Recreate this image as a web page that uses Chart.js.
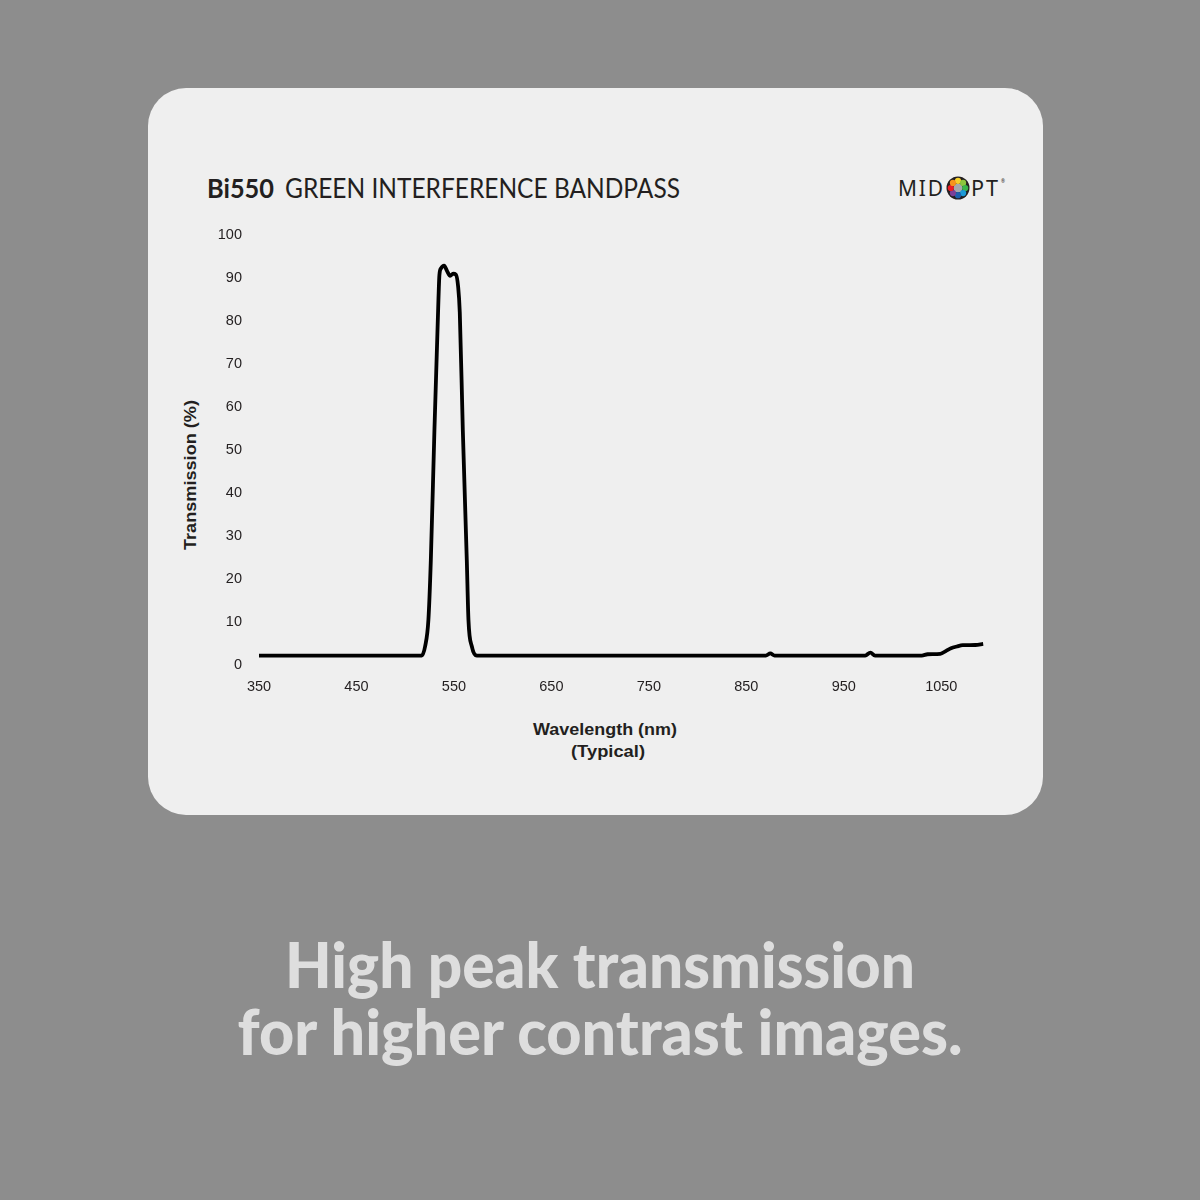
<!DOCTYPE html>
<html><head><meta charset="utf-8">
<script src="https://cdn.jsdelivr.net/npm/chart.js@4"></script>
<style>
html,body{margin:0;padding:0;}
body{width:1200px;height:1200px;background:#8d8d8d;position:relative;overflow:hidden;}
#card{position:absolute;left:148px;top:88px;width:895px;height:727px;background:#efefef;border-radius:38px;}
#chart{position:absolute;left:0;top:0;}
.t{position:absolute;left:0;top:0;white-space:nowrap;line-height:1;color:#231f20;}
.lato{font-family:Lato,"Open Sans",sans-serif;}
.narrow{font-family:"Liberation Sans Narrow","Liberation Sans",Arial,sans-serif;font-weight:700;}
#cap1,#cap2{color:#dedede;font-weight:900;font-size:62px;}
</style></head><body>
<div id="card"></div>
<div class="t lato" id="title1" style="font-weight:700;font-size:27px;">Bi550</div>
<div class="t lato" id="title2" style="font-weight:400;font-size:27px;">GREEN INTERFERENCE BANDPASS</div>
<div class="t" id="logo1" style="font-family:'Noto Sans',sans-serif;font-weight:400;font-size:22px;letter-spacing:2px;">MID</div>
<div class="t" id="logo2" style="font-family:'Noto Sans',sans-serif;font-weight:400;font-size:22px;letter-spacing:2px;">PT</div>
<div class="t" id="logo3" style="font-family:'Noto Sans',sans-serif;font-size:6px;">®</div>
<svg id="logoO" style="position:absolute;left:946px;top:176px" width="24" height="24" viewBox="0 0 24 24">
  <circle cx="12" cy="12" r="11.5" fill="#231f20"/>
  <circle cx="12" cy="12" r="4.6" fill="#a7a9ac"/>
  <g id="dots"></g>
</svg>
<div class="t narrow" id="ytitle" style="font-size:17px;">Transmission (%)</div>
<div class="t narrow" id="xtitle1" style="font-size:17px;">Wavelength (nm)</div>
<div class="t narrow" id="xtitle2" style="font-size:17px;">(Typical)</div>
<div class="t lato" id="cap1">High peak transmission</div>
<div class="t lato" id="cap2">for higher contrast images.</div>
<canvas id="chart" width="1200" height="1200"></canvas>
<script>
// ---- data ----
const wavelengths = [350, 517, 520.4, 523.8, 526.3, 530, 534.1, 535.1, 536.9, 539.9, 543, 546.1, 549.2, 552, 554.3, 556, 559.1, 563.2, 564.9, 568.4, 573.5, 870, 874.6, 879, 972, 977.3, 982, 1030, 1036, 1049, 1055, 1060, 1066, 1072, 1085, 1093];
const transmission = [2.2, 2.2, 4.3, 10.5, 24.4, 54.7, 84.9, 90.7, 92.3, 92.9, 91.6, 90.5, 91.0, 90.8, 88.0, 82.0, 54.7, 24.4, 10.5, 4.3, 2.2, 2.2, 2.7, 2.2, 2.2, 2.9, 2.2, 2.2, 2.5, 2.6, 3.3, 3.9, 4.3, 4.6, 4.65, 4.9];
const xTickLabels = [350, 450, 550, 650, 750, 850, 950, 1050];
const yTickLabels = [0, 10, 20, 30, 40, 50, 60, 70, 80, 90, 100];
const logoDotColors = ["#f6d02a", "#8dc63f", "#39b54a", "#1c9ad6", "#1c5fae", "#7b3f98", "#ed1c24", "#f7941d"];

// ---- logo dots ----
(function(){
  const g = document.getElementById('dots');
  logoDotColors.forEach((c, i) => {
    const a = -Math.PI/2 + i * Math.PI/4;
    const el = document.createElementNS('http://www.w3.org/2000/svg','circle');
    el.setAttribute('cx', 12 + 7.2*Math.cos(a));
    el.setAttribute('cy', 12 + 7.2*Math.sin(a));
    el.setAttribute('r', 3.1);
    el.setAttribute('fill', c);
    g.appendChild(el);
  });
})();

// ---- text placement helpers ----
function metrics(el){
  const m = document.createElement('span');
  m.style.cssText = 'display:inline-block;width:0;height:0;vertical-align:baseline;';
  el.appendChild(m);
  const b = m.offsetTop;
  el.removeChild(m);
  const w = el.getBoundingClientRect().width;
  return {b, w};
}
function place(id, left, base, width){
  const el = document.getElementById(id);
  const {b, w} = metrics(el);
  const s = width ? width / w : 1;
  el.style.transformOrigin = '0 0';
  el.style.transform = `translate(${left}px,${base - b}px) scaleX(${s})`;
}
function placeC(id, cx, base, width){ place(id, cx - width/2, base, width); }
function placeRot(id, cx, cy, len, capRatio){
  const el = document.getElementById(id);
  const {b, w} = metrics(el);
  const fs = parseFloat(getComputedStyle(el).fontSize);
  const ch = fs * capRatio;
  const s = len / w;
  el.style.transformOrigin = '0 0';
  el.style.transform = `translate(${cx}px,${cy}px) rotate(-90deg) scale(${s},1) translate(${-w/2}px,${-(b - ch/2)}px)`;
}
place('title1', 207, 198, 67);
place('title2', 285, 198, 395);
place('logo1', 898, 196, 47);
place('logo2', 971, 196, 29);
place('logo3', 1001, 183, 4);
placeRot('ytitle', 190, 475, 150, 0.716);
placeC('xtitle1', 605, 735, 144);
placeC('xtitle2', 608, 757, 74);
placeC('cap1', 600, 988, 630);
placeC('cap2', 600, 1055, 725);

// ---- chart ----
const points = wavelengths.map((x, i) => ({x, y: transmission[i]}));
const tickFont = { family: "'Liberation Sans Narrow','Liberation Sans',Arial,sans-serif", size: 14.5 };
new Chart(document.getElementById('chart'), {
  type: 'line',
  data: { datasets: [{
    data: points,
    borderColor: '#000000',
    borderWidth: 3.8,
    pointRadius: 0,
    fill: false,
    cubicInterpolationMode: 'monotone',
    clip: false
  }]},
  options: {
    responsive: false,
    animation: false,
    devicePixelRatio: 1,
    layout: { padding: { left: 0, top: 235, right: 210, bottom: 495 } },
    plugins: { legend: { display: false }, tooltip: { enabled: false } },
    scales: {
      x: {
        type: 'linear', min: 350, max: 1100,
        grid: { display: false, drawTicks: false },
        border: { display: false },
        afterBuildTicks: s => { s.ticks = xTickLabels.map(v => ({value: v})); },
        afterFit: s => { s.height = 40; },
        ticks: { padding: 13, maxRotation: 0, autoSkip: false, color: '#231f20', font: tickFont,
          callback: v => String(v) }
      },
      y: {
        type: 'linear', min: 0, max: 100,
        grid: { display: false, drawTicks: false },
        border: { display: false },
        afterBuildTicks: s => { s.ticks = yTickLabels.map(v => ({value: v})); },
        afterFit: s => { s.width = 259; },
        ticks: { padding: 17, color: '#231f20', font: tickFont, callback: v => String(v) }
      }
    }
  }
});
</script>
</body></html>
